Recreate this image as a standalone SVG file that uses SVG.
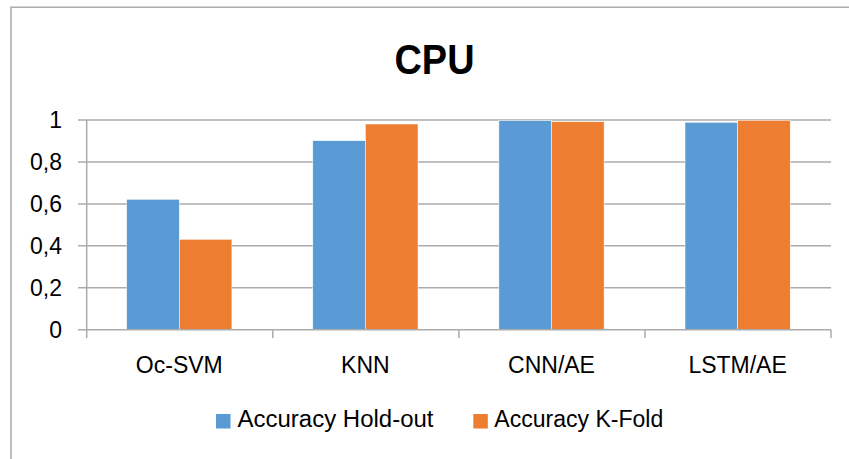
<svg xmlns="http://www.w3.org/2000/svg" width="849" height="459" viewBox="0 0 849 459">
<style>
.grid{stroke:#ABABAB;stroke-width:1.5;fill:none}
.blue{fill:#5B9BD5;stroke:#FFFFFF;stroke-width:0.5}
.orange{fill:#ED7D31;stroke:#FFFFFF;stroke-width:0.5}
.t{font-family:"Liberation Sans",Arial,sans-serif;font-size:23.5px;fill:#000000}
.ty{font-family:"Liberation Sans",Arial,sans-serif;font-size:23px;fill:#000000;text-anchor:end}
.tc{font-family:"Liberation Sans",Arial,sans-serif;font-size:23px;fill:#000000;text-anchor:middle}
</style>
<rect x="0" y="0" width="849" height="459" fill="#FFFFFF"/>
<g id="frame">
<path d="M11,459 V7.3 H849" class="grid"/>
</g>
<g id="title">
<text x="434.5" y="74" font-family="'Liberation Sans',Arial,sans-serif" font-size="42" font-weight="bold" text-anchor="middle" textLength="80" lengthAdjust="spacingAndGlyphs">CPU</text>
</g>
<g id="gridlines">
<line x1="78" y1="120" x2="831" y2="120" class="grid"/>
<line x1="78" y1="161.9" x2="831" y2="161.9" class="grid"/>
<line x1="78" y1="203.9" x2="831" y2="203.9" class="grid"/>
<line x1="78" y1="245.8" x2="831" y2="245.8" class="grid"/>
<line x1="78" y1="287.8" x2="831" y2="287.8" class="grid"/>
</g>
<g id="y-labels">
<text x="62" y="128.3" class="ty">1</text>
<text x="62" y="170.2" class="ty">0,8</text>
<text x="62" y="212.2" class="ty">0,6</text>
<text x="62" y="254.1" class="ty">0,4</text>
<text x="62" y="296.1" class="ty">0,2</text>
<text x="62" y="338" class="ty">0</text>
</g>
<g id="bars">
<g id="oc-svm">
<rect x="126.7" y="199.3" width="52.6" height="130.4" class="blue"/>
<rect x="179.3" y="239.3" width="52.6" height="90.4" class="orange"/>
</g>
<g id="knn">
<rect x="312.8" y="140.7" width="52.6" height="189" class="blue"/>
<rect x="365.4" y="124" width="52.6" height="205.7" class="orange"/>
</g>
<g id="cnn-ae">
<rect x="498.9" y="120.7" width="52.6" height="209" class="blue"/>
<rect x="551.5" y="121.7" width="52.6" height="208" class="orange"/>
</g>
<g id="lstm-ae">
<rect x="685" y="122.3" width="52.6" height="207.4" class="blue"/>
<rect x="737.6" y="120.3" width="52.6" height="209.4" class="orange"/>
</g>
</g>
<g id="axes">
<line x1="86.7" y1="120" x2="86.7" y2="338" class="grid"/>
<line x1="78" y1="329.7" x2="831" y2="329.7" class="grid"/>
<line x1="272.8" y1="329.7" x2="272.8" y2="338" class="grid"/>
<line x1="458.9" y1="329.7" x2="458.9" y2="338" class="grid"/>
<line x1="645" y1="329.7" x2="645" y2="338" class="grid"/>
<line x1="831" y1="329.7" x2="831" y2="338" class="grid"/>
</g>
<g id="x-labels">
<text x="179.3" y="373" class="tc">Oc-SVM</text>
<text x="365.4" y="373" class="tc">KNN</text>
<text x="551.5" y="373" class="tc">CNN/AE</text>
<text x="737.6" y="373" class="tc">LSTM/AE</text>
</g>
<g id="legend">
<rect x="216" y="414" width="14.5" height="14.5" fill="#5B9BD5"/>
<text x="237.5" y="427" class="t" textLength="196" lengthAdjust="spacingAndGlyphs">Accuracy Hold-out</text>
<rect x="473.3" y="414" width="14.5" height="14.5" fill="#ED7D31"/>
<text x="494.3" y="427" class="t" textLength="169" lengthAdjust="spacingAndGlyphs">Accuracy K-Fold</text>
</g>
</svg>
